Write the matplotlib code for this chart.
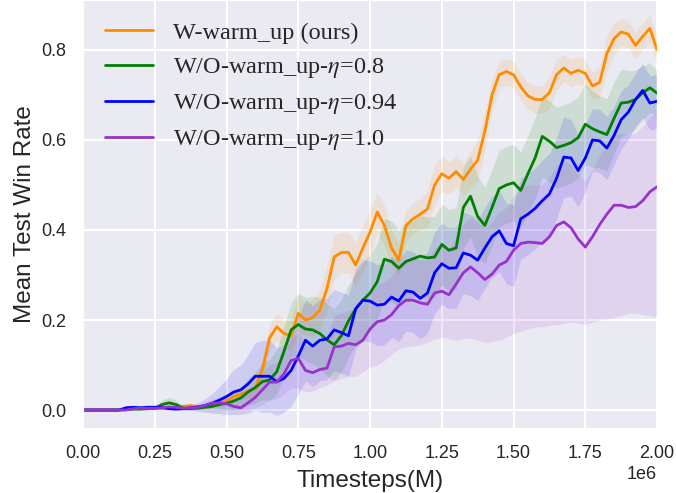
import numpy as np
import matplotlib
matplotlib.use("Agg")
import matplotlib.pyplot as plt
import seaborn as sns

sns.set_style("darkgrid")
plt.rcParams['font.family'] = ['Liberation Sans', 'DejaVu Sans']
plt.rcParams['mathtext.fontset'] = 'stix'

# timesteps in millions (x 1e6)
steps_m = [i * 0.025 for i in range(81)]

orange_mean = [0, 0, 0, 0, 0, 0, 0.002, 0.003, 0.003, 0.004,
               0.004, 0.003, 0.003, 0.004, 0.008, 0.010, 0.007, 0.008, 0.010, 0.015,
               0.020, 0.030, 0.035, 0.042, 0.048, 0.090, 0.160, 0.185, 0.170, 0.165,
               0.215, 0.200, 0.205, 0.222, 0.270, 0.340, 0.350, 0.350, 0.322, 0.360,
               0.395, 0.440, 0.410, 0.360, 0.333, 0.410, 0.425, 0.435, 0.447, 0.500,
               0.525, 0.515, 0.530, 0.512, 0.535, 0.555, 0.620, 0.700, 0.745, 0.752,
               0.745, 0.718, 0.698, 0.690, 0.690, 0.705, 0.745, 0.760, 0.748, 0.755,
               0.748, 0.720, 0.728, 0.792, 0.825, 0.840, 0.835, 0.810, 0.830, 0.848,
               0.800]
orange_err = [0, 0, 0, 0, 0, 0, 0.001, 0.002, 0.002, 0.002,
              0.002, 0.002, 0.002, 0.003, 0.004, 0.005, 0.004, 0.004, 0.005, 0.006,
              0.008, 0.010, 0.012, 0.015, 0.018, 0.025, 0.030, 0.030, 0.030, 0.035,
              0.040, 0.035, 0.040, 0.045, 0.050, 0.050, 0.045, 0.045, 0.050, 0.050,
              0.050, 0.045, 0.045, 0.040, 0.035, 0.035, 0.035, 0.035, 0.040, 0.045,
              0.040, 0.035, 0.035, 0.035, 0.040, 0.045, 0.045, 0.035, 0.030, 0.030,
              0.030, 0.030, 0.030, 0.030, 0.030, 0.035, 0.035, 0.030, 0.030, 0.030,
              0.030, 0.030, 0.035, 0.040, 0.035, 0.030, 0.030, 0.030, 0.030, 0.030,
              0.030]

green_mean = [0, 0, 0, 0, 0, 0, 0.001, 0.002, 0.002, 0.003,
              0.004, 0.012, 0.016, 0.012, 0.004, 0.003, 0.004, 0.006, 0.008, 0.012,
              0.015, 0.020, 0.027, 0.040, 0.050, 0.063, 0.067, 0.085, 0.130, 0.178,
              0.190, 0.180, 0.178, 0.170, 0.156, 0.145, 0.165, 0.198, 0.225, 0.244,
              0.260, 0.285, 0.335, 0.330, 0.315, 0.330, 0.336, 0.342, 0.338, 0.340,
              0.368, 0.355, 0.360, 0.450, 0.475, 0.430, 0.410, 0.450, 0.492, 0.500,
              0.505, 0.488, 0.525, 0.560, 0.608, 0.597, 0.583, 0.588, 0.594, 0.605,
              0.635, 0.625, 0.618, 0.612, 0.648, 0.682, 0.684, 0.690, 0.705, 0.716,
              0.704]
green_err = [0, 0, 0, 0, 0, 0, 0.001, 0.002, 0.002, 0.003,
             0.004, 0.010, 0.012, 0.010, 0.004, 0.004, 0.005, 0.007, 0.010, 0.013,
             0.016, 0.020, 0.025, 0.030, 0.035, 0.040, 0.045, 0.050, 0.055, 0.060,
             0.070, 0.070, 0.075, 0.080, 0.080, 0.080, 0.080, 0.080, 0.080, 0.085,
             0.085, 0.085, 0.090, 0.090, 0.085, 0.085, 0.085, 0.090, 0.090, 0.090,
             0.090, 0.090, 0.090, 0.090, 0.090, 0.090, 0.085, 0.085, 0.085, 0.085,
             0.085, 0.085, 0.085, 0.090, 0.090, 0.090, 0.090, 0.090, 0.090, 0.090,
             0.090, 0.085, 0.080, 0.080, 0.080, 0.075, 0.070, 0.065, 0.060, 0.055,
             0.050]

blue_mean = [0, 0, 0, 0, 0, 0, 0.005, 0.006, 0.005, 0.006,
             0.006, 0.006, 0.003, 0.002, 0.003, 0.005, 0.007, 0.010, 0.015, 0.022,
             0.030, 0.040, 0.045, 0.058, 0.075, 0.075, 0.075, 0.063, 0.070, 0.088,
             0.120, 0.155, 0.142, 0.155, 0.158, 0.178, 0.172, 0.165, 0.225, 0.244,
             0.242, 0.233, 0.235, 0.251, 0.242, 0.265, 0.262, 0.248, 0.260, 0.305,
             0.325, 0.315, 0.316, 0.349, 0.344, 0.333, 0.360, 0.385, 0.398, 0.370,
             0.365, 0.425, 0.435, 0.448, 0.465, 0.480, 0.515, 0.562, 0.560, 0.532,
             0.560, 0.600, 0.598, 0.582, 0.610, 0.645, 0.662, 0.690, 0.710, 0.682,
             0.686]
blue_err = [0, 0, 0, 0, 0, 0, 0.004, 0.005, 0.005, 0.006,
            0.006, 0.006, 0.004, 0.003, 0.004, 0.006, 0.010, 0.015, 0.022, 0.030,
            0.040, 0.050, 0.055, 0.065, 0.075, 0.080, 0.080, 0.075, 0.075, 0.080,
            0.085, 0.090, 0.090, 0.090, 0.090, 0.090, 0.090, 0.090, 0.090, 0.090,
            0.090, 0.090, 0.090, 0.090, 0.090, 0.090, 0.090, 0.090, 0.090, 0.090,
            0.090, 0.090, 0.090, 0.090, 0.090, 0.090, 0.090, 0.090, 0.090, 0.090,
            0.090, 0.090, 0.090, 0.090, 0.090, 0.090, 0.090, 0.090, 0.085, 0.080,
            0.075, 0.070, 0.070, 0.070, 0.065, 0.065, 0.060, 0.060, 0.060, 0.060,
            0.060]

purple_mean = [0, 0, 0, 0, 0, 0, 0, 0.003, 0.004, 0.004,
               0.004, 0.005, 0.007, 0.006, 0.004, 0.005, 0.006, 0.010, 0.015, 0.016,
               0.014, 0.008, 0.005, 0.016, 0.028, 0.045, 0.062, 0.062, 0.080, 0.110,
               0.115, 0.088, 0.083, 0.090, 0.093, 0.140, 0.142, 0.148, 0.145, 0.155,
               0.180, 0.196, 0.200, 0.212, 0.232, 0.244, 0.244, 0.238, 0.235, 0.260,
               0.264, 0.256, 0.280, 0.305, 0.318, 0.305, 0.290, 0.302, 0.322, 0.330,
               0.355, 0.370, 0.373, 0.372, 0.370, 0.385, 0.410, 0.418, 0.405, 0.380,
               0.362, 0.385, 0.412, 0.435, 0.455, 0.455, 0.450, 0.452, 0.465, 0.485,
               0.496]
purple_lo = [0, 0, 0, 0, 0, 0, 0, 0.001, 0.002, 0.002,
             0.001, 0.002, 0.003, 0.002, 0.001, 0.001, 0.001, 0.003, 0.005, 0.004,
             0.002, 0.000, 0.000, 0.000, 0.004, 0.012, 0.022, 0.025, 0.035, 0.050,
             0.048, 0.040, 0.042, 0.050, 0.055, 0.065, 0.070, 0.075, 0.075, 0.085,
             0.095, 0.100, 0.110, 0.125, 0.135, 0.140, 0.142, 0.145, 0.150, 0.158,
             0.162, 0.158, 0.155, 0.158, 0.160, 0.155, 0.150, 0.152, 0.155, 0.162,
             0.170, 0.175, 0.180, 0.184, 0.185, 0.188, 0.190, 0.192, 0.195, 0.193,
             0.190, 0.195, 0.200, 0.202, 0.205, 0.210, 0.215, 0.215, 0.212, 0.210,
             0.207]
purple_hi = [0, 0, 0, 0, 0, 0, 0, 0.005, 0.006, 0.006,
             0.007, 0.008, 0.011, 0.010, 0.008, 0.009, 0.011, 0.017, 0.025, 0.028,
             0.028, 0.024, 0.025, 0.040, 0.058, 0.080, 0.100, 0.105, 0.125, 0.160,
             0.170, 0.145, 0.140, 0.150, 0.160, 0.210, 0.215, 0.222, 0.222, 0.235,
             0.260, 0.278, 0.285, 0.298, 0.320, 0.335, 0.337, 0.333, 0.332, 0.360,
             0.366, 0.360, 0.386, 0.413, 0.428, 0.417, 0.404, 0.418, 0.440, 0.450,
             0.477, 0.494, 0.500, 0.500, 0.500, 0.518, 0.545, 0.556, 0.545, 0.524,
             0.510, 0.535, 0.565, 0.590, 0.612, 0.615, 0.612, 0.616, 0.630, 0.650,
             0.660]

labels = ['W-warm_up (ours)', r'W/O-warm_up-$\eta$=0.8',
          r'W/O-warm_up-$\eta$=0.94', r'W/O-warm_up-$\eta$=1.0']
colors = ['#ff8c00', '#008000', '#0000ff', '#9932cc']

x = np.array(steps_m) * 1e6

fig = plt.figure(figsize=(6.76, 4.93), dpi=100)
ax = fig.add_axes([0.1228, 0.1318, 0.8492, 0.8682])

series = [
    (np.array(orange_mean), np.array(orange_mean) - np.array(orange_err), np.array(orange_mean) + np.array(orange_err)),
    (np.array(green_mean), np.array(green_mean) - np.array(green_err), np.array(green_mean) + np.array(green_err)),
    (np.array(blue_mean), np.array(blue_mean) - np.array(blue_err), np.array(blue_mean) + np.array(blue_err)),
    (np.array(purple_mean), np.array(purple_lo), np.array(purple_hi)),
]

for (m, lo, hi), c in zip(series, colors):
    ax.fill_between(x, lo, hi, color=c, alpha=0.12, linewidth=0)
for (m, lo, hi), c, lab in zip(series, colors, labels):
    ax.plot(x, m, color=c, lw=2.0, label=lab)

ax.set_xlim(0, 2e6)
ax.set_ylim(-0.04, 0.911)
ax.set_xticks([0, 0.25e6, 0.5e6, 0.75e6, 1.0e6, 1.25e6, 1.5e6, 1.75e6, 2.0e6])
ax.set_yticks([0.0, 0.2, 0.4, 0.6, 0.8])
ax.tick_params(axis='both', labelsize=13, pad=12, length=0)
ax.xaxis.get_offset_text().set_fontsize(13)
ax.grid(True, color='white', linewidth=1.5)
ax.set_xlabel('Timesteps(M)', fontsize=17.5, labelpad=6)
ax.set_ylabel('Mean Test Win Rate', fontsize=17.5, labelpad=4)

leg = ax.legend(loc='upper left', frameon=False,
                prop={'family': ['Liberation Serif', 'DejaVu Serif'], 'size': 17.5})

fig.savefig('out.png', dpi=100)
